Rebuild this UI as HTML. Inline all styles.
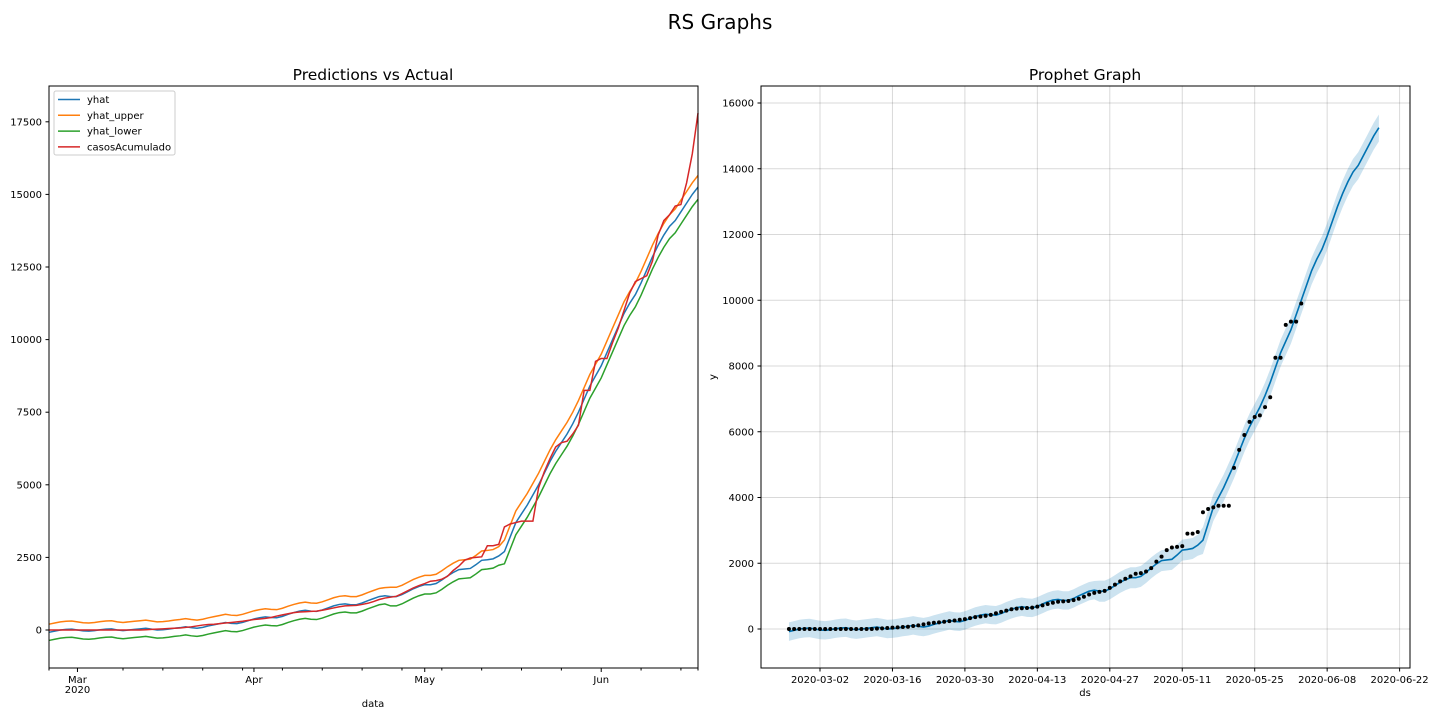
<!DOCTYPE html>
<html><head><meta charset="utf-8">
<style>
html,body{margin:0;padding:0;background:#fff;}
svg{display:block;font-family:"DejaVu Sans","Liberation Sans",sans-serif;}
</style></head>
<body>
<svg id="chart" width="1440" height="720" xmlns="http://www.w3.org/2000/svg">
<text x="720" y="29" font-size="20" text-anchor="middle">RS Graphs</text>
<text x="373" y="80" font-size="15.5" text-anchor="middle">Predictions vs Actual</text>
<text x="1085" y="80" font-size="15.5" text-anchor="middle">Prophet Graph</text>
<g id="left"></g>
<g id="right"></g>
</svg>
<script>
// day index 0 = 2020-02-25, 114 = 2020-06-18
const yhat = [-80,-40,0,20,30,0,-30,-40,-20,10,30,40,0,-20,0,20,40,60,30,0,10,30,60,80,110,80,60,90,140,180,220,260,230,220,260,320,380,420,450,430,420,470,540,600,650,680,650,640,690,760,830,880,900,870,870,930,1010,1080,1150,1180,1150,1150,1220,1320,1420,1500,1560,1560,1600,1720,1860,1980,2080,2100,2120,2250,2400,2420,2450,2550,2700,3200,3700,4000,4300,4650,5000,5400,5800,6150,6450,6750,7100,7500,7950,8400,8750,9100,9550,10000,10450,10900,11250,11550,11950,12400,12850,13250,13600,13900,14100,14400,14700,15000,15250];
const yhatUpper = [200,240,280,300,310,280,250,240,260,290,310,320,280,260,280,300,320,340,310,280,290,310,340,360,390,360,340,370,420,460,500,540,510,500,540,600,660,700,730,710,700,750,820,880,930,960,930,920,970,1040,1110,1160,1180,1150,1150,1210,1290,1360,1430,1460,1470,1470,1540,1640,1740,1820,1880,1880,1920,2040,2180,2300,2400,2420,2440,2570,2720,2740,2770,2870,3100,3600,4100,4400,4700,5050,5400,5800,6200,6550,6850,7150,7500,7900,8350,8800,9150,9500,9950,10400,10850,11300,11650,11950,12350,12800,13250,13650,14000,14300,14500,14800,15100,15400,15650];
const yhatLower = [-360,-320,-280,-260,-250,-280,-310,-320,-300,-270,-250,-240,-280,-300,-280,-260,-240,-220,-250,-280,-270,-250,-220,-200,-170,-200,-220,-190,-140,-100,-60,-20,-50,-60,-20,40,100,140,170,150,140,190,260,320,370,400,370,360,410,480,550,600,620,590,590,650,730,800,870,900,830,830,900,1000,1100,1180,1240,1240,1280,1400,1540,1660,1760,1780,1800,1930,2080,2100,2130,2230,2280,2780,3280,3580,3880,4230,4580,4980,5380,5730,6030,6330,6680,7080,7530,7980,8330,8680,9130,9580,10030,10480,10830,11130,11530,11980,12430,12830,13180,13480,13680,13980,14280,14580,14830];
const casos = [0,0,0,0,0,0,0,0,0,0,0,0,0,0,0,0,0,10,20,30,40,50,60,70,90,110,140,170,190,200,220,240,260,280,300,330,360,380,400,430,480,520,560,600,620,630,640,650,680,720,760,800,830,840,850,880,920,980,1050,1100,1130,1160,1250,1350,1450,1530,1600,1680,1700,1750,1850,2050,2200,2400,2480,2500,2520,2900,2900,2950,3550,3650,3700,3750,3750,3750,4900,5450,5900,6300,6450,6500,6750,7050,8250,8250,9250,9350,9350,9900,10400,11000,11600,12000,12100,12200,12700,13600,14100,14300,14600,14650,15400,16400,17800];
const actualCount = 100;
const leftYTicks = [0,2500,5000,7500,10000,12500,15000,17500];
const leftMonthTicks = [5,36,66,97];
const leftMonthLabels = ["Mar","Apr","May","Jun"];
const rightYTicks = [0,2000,4000,6000,8000,10000,12000,14000,16000];
const rightXTickDays = [6,20,34,48,62,76,90,104,118];
const rightXTickLabels = ["2020-03-02","2020-03-16","2020-03-30","2020-04-13","2020-04-27","2020-05-11","2020-05-25","2020-06-08","2020-06-22"];

const NS="http://www.w3.org/2000/svg";
function mk(parent,tag,attrs,text){const e=document.createElementNS(NS,tag);for(const k in attrs)e.setAttribute(k,attrs[k]);if(text!==undefined)e.textContent=text;parent.appendChild(e);return e;}

// LEFT
const L=document.getElementById('left');
const lx=d=>49+d*(649/114);
const ly=v=>630-v*(72.6/2500);
function pathOf(arr,fx,fy){return arr.map((v,i)=>(i?'L':'M')+fx(i).toFixed(2)+','+fy(v).toFixed(2)).join('');}
const series=[[yhat,'#1f77b4','yhat'],[yhatUpper,'#ff7f0e','yhat_upper'],[yhatLower,'#2ca02c','yhat_lower'],[casos,'#d62728','casosAcumulado']];
const lines=[{a:yhat,c:'#1f77b4',n:'yhat-line'},{a:yhatUpper,c:'#ff7f0e',n:'yhat-upper-line'},{a:yhatLower,c:'#2ca02c',n:'yhat-lower-line'},{a:casos,c:'#d62728',n:'casos-acumulado-line'}];
for(const s of lines){
  const p=mk(L,'path',{d:pathOf(s.a,lx,ly),fill:'none',stroke:s.c,'stroke-width':1.5});
  
  
}
const lf=mk(L,'rect',{x:49,y:86,width:649,height:582,fill:'none',stroke:'#000','stroke-width':1});


for(const t of leftYTicks){
  const y=ly(t);
  mk(L,'line',{x1:45.5,x2:49,y1:y,y2:y,stroke:'#000'});
  const tx=mk(L,'text',{x:42,y:y+3.5,'font-size':10,'text-anchor':'end'},String(t));
  
  
}
for(let d=13;d<=114;d+=7){ if(leftMonthTicks.indexOf(d)<0) mk(L,'line',{x1:lx(d),x2:lx(d),y1:668,y2:670.5,stroke:'#000'}); }
mk(L,'line',{x1:lx(0),x2:lx(0),y1:668,y2:670.5,stroke:'#000'});
mk(L,'line',{x1:lx(114),x2:lx(114),y1:668,y2:670.5,stroke:'#000'});
leftMonthTicks.forEach((d,i)=>{
  mk(L,'line',{x1:lx(d),x2:lx(d),y1:668,y2:672,stroke:'#000'});
  const tx=mk(L,'text',{x:lx(d),y:683,'font-size':10,'text-anchor':'middle'},leftMonthLabels[i]);
  
  
});
const yr=mk(L,'text',{x:lx(5),y:693,'font-size':10,'text-anchor':'middle'},'2020');


const lxl=mk(L,'text',{x:373,y:707,'font-size':10,'text-anchor':'middle'},'data');


// legend
const lg=mk(L,'g',{});


mk(lg,'rect',{x:54,y:91,width:121,height:64,rx:2,fill:'#fff','fill-opacity':0.8,stroke:'#ccc'});
lines.forEach((s,i)=>{
  const g=mk(lg,'g',{});
  
  
  const y=99.5+i*15.8;
  mk(g,'line',{x1:58,x2:80,y1:y,y2:y,stroke:s.c,'stroke-width':1.5});
  mk(g,'text',{x:87,y:y+3.5,'font-size':10},series[i][2]);
});

// RIGHT
const R=document.getElementById('right');
const rx=d=>820+(d-6)*(72.45/14);
const ry=v=>629-v*(65.75/2000);
for(const t of rightYTicks){
  const y=ry(t);
  mk(R,'line',{x1:761,x2:1410,y1:y,y2:y,stroke:'#000','stroke-opacity':0.15,'stroke-width':1});
  mk(R,'line',{x1:757.5,x2:761,y1:y,y2:y,stroke:'#000'});
  const tx=mk(R,'text',{x:754,y:y+3.5,'font-size':10,'text-anchor':'end'},String(t));
  
  
}
rightXTickDays.forEach((d,i)=>{
  const x=rx(d);
  mk(R,'line',{x1:x,x2:x,y1:86,y2:668,stroke:'#000','stroke-opacity':0.15});
  mk(R,'line',{x1:x,x2:x,y1:668,y2:671.5,stroke:'#000'});
  const tx=mk(R,'text',{x:x,y:683,'font-size':10,'text-anchor':'middle'},rightXTickLabels[i]);
  
  
});
let band='M'+yhatUpper.map((v,i)=>rx(i).toFixed(2)+','+ry(v).toFixed(2)).join('L');
for(let i=yhatLower.length-1;i>=0;i--) band+='L'+rx(i).toFixed(2)+','+ry(yhatLower[i]).toFixed(2);
const bp=mk(R,'path',{d:band+'Z',fill:'#0072B2','fill-opacity':0.2,stroke:'none'});


const fl=mk(R,'path',{d:pathOf(yhat,rx,ry),fill:'none',stroke:'#0072B2','stroke-width':1.6});


for(let i=0;i<actualCount;i++){
  const c=mk(R,'circle',{cx:rx(i),cy:ry(casos[i]),r:2,fill:'#000'});
  
  
}
const rf=mk(R,'rect',{x:761,y:86,width:649,height:582,fill:'none',stroke:'#000','stroke-width':1});


const rxl=mk(R,'text',{x:1085,y:696,'font-size':10,'text-anchor':'middle'},'ds');


const ryl=mk(R,'text',{x:0,y:0,'font-size':10,'text-anchor':'middle',transform:'translate(716,377) rotate(-90)'},'y');


</script>
</body></html>
